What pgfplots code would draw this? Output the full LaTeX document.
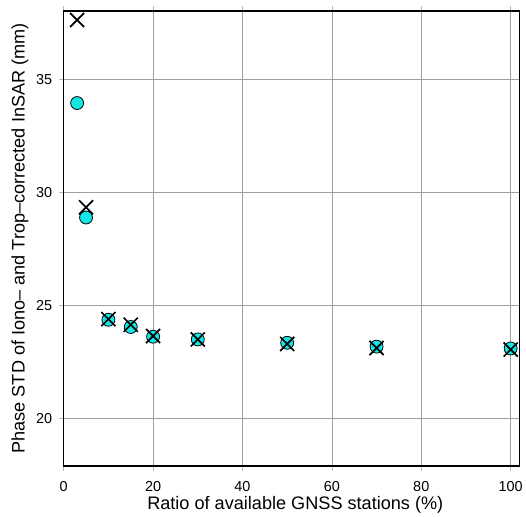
\documentclass[border=0pt]{standalone}
\usepackage{fontspec}
\setmainfont{Liberation Sans}
\usepackage{pgfplots}
\pgfplotsset{compat=1.18}
\definecolor{mcyan}{RGB}{20,230,230}
\begin{document}
\begin{tikzpicture}
\begin{axis}[
  name=ax,
  scale only axis,
  width=458pt, height=457pt,
  xmin=0, xmax=102, ymin=17.9, ymax=38.05,
  xtick={0,20,40,60,80,100},
  ytick={20,25,30,35},
  grid=major,
  grid style={gray!75, line width=0.6pt},
  axis line style={black, line width=1.6pt},
  tick align=outside,
  major tick length=5pt,
  tick style={gray!55, line width=0.6pt},
  xtick pos=both, ytick pos=left,
  /pgf/number format/assume math mode=true,
  ticklabel style={font=\fontsize{14.5}{17}\selectfont},
  label style={font=\fontsize{18.2}{21}\selectfont},
  xlabel={Ratio of available GNSS stations (\%)},
  ylabel={Phase STD of Iono-- and Trop--corrected InSAR (mm)},
  xlabel style={at={(axis description cs:0.508,-0.086)}, anchor=center},
  ylabel style={at={(axis description cs:-0.096,0.5)}, anchor=center},
  yticklabel style={xshift=-3pt},
  xticklabel style={yshift=-7pt},
  clip=false,
]
\addplot[only marks, mark=*, mark size=6.5pt, mark options={fill=mcyan, draw=black, line width=0.8pt}]
coordinates {(3,33.97) (5,28.9) (10,24.37) (15,24.05) (20,23.62) (30,23.5) (50,23.35) (70,23.18) (100,23.1)};
\addplot[only marks, mark=x, mark size=10pt, mark options={draw=black, line width=1.7pt}]
coordinates {(3,37.65) (5,29.35) (10,24.4) (15,24.15) (20,23.65) (30,23.5) (50,23.3) (70,23.12) (100,23.05)};
\end{axis}
\path[use as bounding box] ([xshift=-64pt,yshift=-49pt]ax.south west) rectangle ([xshift=4pt,yshift=11pt]ax.north east);
\end{tikzpicture}
\end{document}
